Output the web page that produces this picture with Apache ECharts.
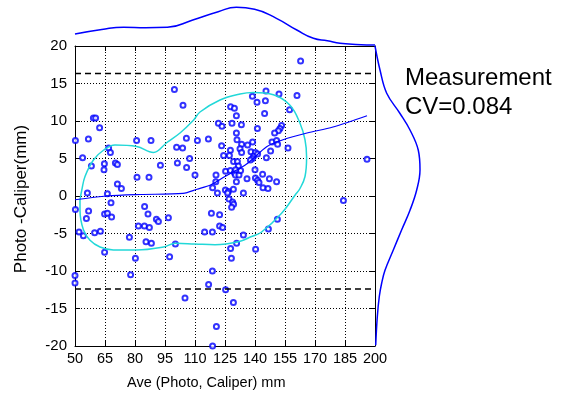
<!DOCTYPE html>
<html>
<head>
<meta charset="utf-8">
<script src="https://cdn.jsdelivr.net/npm/echarts@6/dist/echarts.min.js"></script>
<style>html,body{margin:0;padding:0;background:#fff;}#c{width:570px;height:399px;}</style>
</head>
<body>
<div id="c"></div>
<script>
// Scatter points: average (x) and difference (y)
const aveVals = [99.7,104,59.2,60.3,62.3,50.2,56.7,80.8,88,105.7,111.2,66.8,67.7,100.8,103.8,53.8,107.3,58.2,64.7,64.5,70.2,71.2,101.2,92.7,105.8,81,87,110,71.2,73.2,56.2,66.2,
68,50.2,56.8,64.8,66.2,68.3,55.7,84.8,86.5,81.7,84.7,87.2,90.7,91.7,96.7,52,54.2,59.8,62.7,77.2,85.5,88.2,100.2,64.8,80.2,97.3,50,50,77.8,105,
184.2,118.2,122.3,114.8,118.7,122.3,123.8,134.2,130.8,151.2,146.7,127.8,140.3,128.2,118.7,116.8,125.3,129.2,120.7,118.8,
120.5,125.3,127.7,129.7,130.2,132,132.8,136,130.7,140,140.2,141.3,142,143.8,147.2,150.8,144,146.5,118.8,121.2,125.2,126.7,126.3,129.2,134.2,127,128.8,129.3,128.3,
145.5,152,161,138.7,141,145.2,127.8,129.7,157.3,130.7,144.8,121.7,123.5,128.5,133.2,153.3,152.5,151.7,141.2,130.7,149.8,116.7,131,138.8,148.5,150.8,151.3,136.3,133.3,132.5,133.3,123.3,156.5,127.7,147.8,138,140.2,139.3,138.7,137.7,141.3,145.7,124.3,127.2,129.3,131.2,131.7,130.3,
162.8,196,120.4];
const diffVals = [14.2,12.1,10.4,10.4,9.1,7.4,7.6,7.4,7.4,7.7,7.4,6.4,5.8,6.5,6.4,5.1,5.0,4.0,4.3,3.5,4.4,4.2,4.4,4.1,3.8,2.5,2.5,2.8,1.6,1.0,0.4,0.3,
-0.9,-1.8,-2.0,-2.4,-2.3,-2.8,-3.0,-1.4,-2.4,-4.0,-4.0,-4.2,-3.1,-3.4,-2.9,-4.8,-5.3,-4.9,-4.7,-5.5,-6.1,-6.3,-6.4,-7.5,-8.3,-8.1,-10.6,-11.6,-10.5,-13.6,
-0.6,-2.3,-2.5,-4.8,-4.8,-4.0,-4.2,-5.2,-6.3,-3.1,-4.4,-7.0,-7.1,-8.3,-10.0,-11.8,-12.5,-14.2,-17.4,-20,
2.8,3.3,3.4,3.1,2.8,2.8,3.4,2.3,1.9,3.5,2.4,2.1,1.8,2.9,2.3,1.9,1.1,1.0,1.1,0.4,0.8,0.6,0.4,0.9,0.4,-0.4,-0.8,-1.1,-1.5,
14.0,13.6,13.4,13.3,12.5,12.7,11.9,11.7,11.5,10.7,11.0,9.7,9.3,9.7,9.5,9.4,9.0,8.7,9.0,8.4,8.4,7.6,7.5,7.2,7.2,7.4,6.9,6.8,6.9,6.3,5.8,6.7,6.4,6.1,6.0,5.9,5.8,5.3,5.0,4.8,5.6,5.1,5.4,5.4,4.6,4.6,4.0,3.5,
18.0,4.9,1.9];

// Trend (smoothed) line
const trendX = [50,66,82.5,104,111,118,125,136,146,154,166,179,196];
const trendY = [-0.5,0,0.2,0.35,0.9,1.5,2.6,4.3,6.6,7.5,8.4,9.2,10.7];

// Contour (closed)
const contourX = [52.5,53.4,55,59.2,64.2,70,80.8,89.2,95.8,102.5,109.2,112.5,122.5,132.5,139.2,149.2,157.5,162.5,165,165.8,165,162.5,160,153.3,143.3,138.3,131.7,120,110,100.2,94.2,80.8,69.2,62.5,57.5,54.2,52.5,52.5];
const contourY = [-0.5,0.8,2.6,4.8,6.1,6.8,6.6,5.8,7.1,8.4,10.1,11.2,12.8,13.6,13.8,13.5,12.1,9.7,7.5,5.2,2.6,1.0,0.1,-2.3,-4.8,-5.4,-6.1,-6.5,-6.4,-6.3,-6.8,-7.2,-7.2,-6.8,-5.9,-4.5,-1.9,-0.5];

// Limits of agreement
const limitUpper = 16.35;
const limitLower = -12.4;

// Marginal densities
const topDensX = [50,63.4,74.3,85.3,96.2,108.9,121.6,130.7,139.8,150.7,160.9,169.2,176.2,182.5,187,195.8,200];
const topDensV = [12,16.5,18.8,18.3,18.7,26,34.3,38.7,36.7,27.7,16,7.7,5.3,2.7,2,1,1];
const rightDensY = [20,16.8,13.7,11,8.8,6.1,3.5,0.8,-1.9,-4.5,-7.2,-9.9,-11.6,-13.4,-16.1,-19.9];
const rightDensV = [0,5,11.7,25,35,43.3,45,41.7,35,26.7,18.3,10,6.7,4.3,2.3,0.7];

// Ticks
const xMin = 50, xMax = 200, xStep = 15;
const yMin = -20, yMax = 20, yStep = 5;

const zip = (a, b) => a.map((v, i) => [v, b[i]]);
const FONT = 'Liberation Sans, Arial, sans-serif';
const BLUE = '#0000ff';

const chart = echarts.init(document.getElementById('c'), null, {renderer: 'canvas'});
const gridLine = {show: true, lineStyle: {color: '#000', type: [1, 2], width: 1}};
const tickIn = {show: true, inside: true, length: 5, lineStyle: {color: '#000', width: 1}};
const axLine = {show: true, onZero: false, lineStyle: {color: '#000', width: 1}};

chart.setOption({
  animation: false,
  backgroundColor: '#fff',
  grid: [
    {left: 75, top: 46, width: 300, height: 300},
    {left: 75, top: 0, width: 300, height: 46},
    {left: 375, top: 46, width: 60, height: 300}
  ],
  xAxis: [
    {gridIndex: 0, type: 'value', min: xMin, max: xMax, interval: xStep, position: 'bottom',
     axisLine: axLine, axisTick: tickIn, splitLine: gridLine,
     axisLabel: {color: '#000', fontSize: 14.5, fontFamily: FONT, margin: 5}},
    {gridIndex: 0, type: 'value', min: xMin, max: xMax, interval: xStep, position: 'top',
     axisLine: axLine, axisTick: tickIn, splitLine: {show: false}, axisLabel: {show: false}},
    {gridIndex: 1, type: 'value', min: xMin, max: xMax, show: false},
    {gridIndex: 2, type: 'value', min: 0, max: 60, show: false}
  ],
  yAxis: [
    {gridIndex: 0, type: 'value', min: yMin, max: yMax, interval: yStep, position: 'left',
     axisLine: axLine, axisTick: tickIn, splitLine: gridLine,
     axisLabel: {color: '#000', fontSize: 15, fontFamily: FONT, margin: 8}},
    {gridIndex: 0, type: 'value', min: yMin, max: yMax, interval: yStep, position: 'right',
     axisLine: axLine, axisTick: tickIn, splitLine: {show: false}, axisLabel: {show: false}},
    {gridIndex: 1, type: 'value', min: 0, max: 46, show: false},
    {gridIndex: 2, type: 'value', min: yMin, max: yMax, show: false}
  ],
  series: [
    {type: 'line', xAxisIndex: 0, yAxisIndex: 0, data: [[xMin, limitUpper], [xMax, limitUpper]],
     symbol: 'none', lineStyle: {color: '#000', width: 1.5, type: [6, 4]}, silent: true},
    {type: 'line', xAxisIndex: 0, yAxisIndex: 0, data: [[xMin, limitLower], [xMax, limitLower]],
     symbol: 'none', lineStyle: {color: '#000', width: 1.5, type: [6, 4]}, silent: true},
    {type: 'line', xAxisIndex: 0, yAxisIndex: 0, data: zip(contourX, contourY), smooth: 0.4,
     symbol: 'none', lineStyle: {color: '#22d8d8', width: 1.5}},
    {type: 'line', xAxisIndex: 0, yAxisIndex: 0, data: zip(trendX, trendY), smooth: 0.3,
     symbol: 'none', lineStyle: {color: BLUE, width: 1.2}},
    {type: 'scatter', xAxisIndex: 0, yAxisIndex: 0, data: zip(aveVals, diffVals), clip: false,
     symbol: 'emptyCircle', symbolSize: 5, itemStyle: {color: BLUE, borderColor: BLUE, borderWidth: 1}},
    {type: 'line', xAxisIndex: 2, yAxisIndex: 2, data: zip(topDensX, topDensV), smooth: 0.5,
     symbol: 'none', lineStyle: {color: BLUE, width: 1.5}},
    {type: 'line', xAxisIndex: 3, yAxisIndex: 3, data: zip(rightDensV, rightDensY), smooth: 0.4,
     symbol: 'none', lineStyle: {color: BLUE, width: 1.5}}
  ],
  graphic: [
    {type: 'text', left: 127, top: 375, style: {text: 'Ave (Photo, Caliper) mm', font: '14.5px ' + FONT, fill: '#000'}},
    {type: 'text', x: 13, y: 199, rotation: Math.PI / 2, style: {text: 'Photo -Caliper(mm)', font: '17px ' + FONT, fill: '#000', textAlign: 'center', textVerticalAlign: 'top'}},
    {type: 'text', left: 405, top: 66, style: {text: 'Measurement', font: '24px ' + FONT, fill: '#000'}},
    {type: 'text', left: 405, top: 95, style: {text: 'CV=0.084', font: '24px ' + FONT, fill: '#000'}}
  ]
});
</script>
</body>
</html>
